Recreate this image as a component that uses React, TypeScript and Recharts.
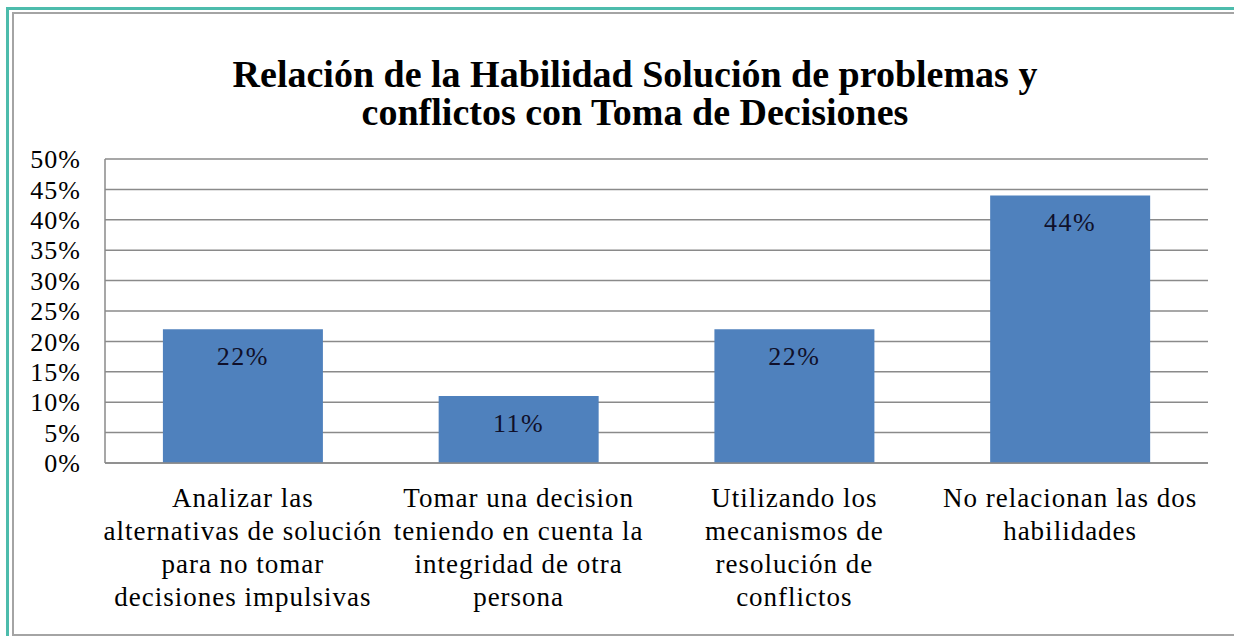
import React from 'react';
import { BarChart, Bar, XAxis, YAxis, CartesianGrid, LabelList } from 'recharts';

const categoryLines: string[][] = [
  ['Analizar las', 'alternativas de solución', 'para no tomar', 'decisiones impulsivas'],
  ['Tomar una decision', 'teniendo en cuenta la', 'integridad de otra', 'persona'],
  ['Utilizando los', 'mecanismos de', 'resolución de', 'conflictos'],
  ['No relacionan las dos', 'habilidades'],
];
const percentages = [22, 11, 22, 44];
const yTicks = [0, 5, 10, 15, 20, 25, 30, 35, 40, 45, 50];
const titleLines = ['Relación de la Habilidad Solución de problemas y', 'conflictos con Toma de Decisiones'];

const data = categoryLines.map((lines, i) => ({
  name: lines.join(' '),
  value: percentages[i],
}));

const FONT = 'Liberation Serif, DejaVu Serif, serif';

function CategoryTick(props: any) {
  const { x, y, index } = props;
  const lines = categoryLines[index] || [];
  return (
    <text x={x} y={y} textAnchor="middle" style={{ fontFamily: FONT, letterSpacing: 1 }} fontSize={27} fill="#000">
      {lines.map((l, i) => (
        <tspan key={i} x={x} dy={i === 0 ? 42 : 33}>
          {l}
        </tspan>
      ))}
    </text>
  );
}

function BarLabel(props: any) {
  const { x, y, width, value } = props;
  return (
    <text
      x={x + width / 2}
      y={y + 27}
      textAnchor="middle"
      dominantBaseline="central"
      style={{ fontFamily: FONT, letterSpacing: 1.5 }}
      fontSize={26}
      fill="#10102a"
    >
      {`${value}%`}
    </text>
  );
}

export default function App() {
  return (
    <div style={{ position: 'absolute', left: 0, top: 0, width: 1234, height: 636, background: '#fff', overflow: 'hidden', fontFamily: FONT }}>
      {/* outer teal frame and inner grey frame */}
      <div style={{ position: 'absolute', left: 6, top: 7, width: 1240, height: 640, borderLeft: '3px solid #4dbcac', borderTop: '3px solid #4dbcac' }} />
      <div style={{ position: 'absolute', left: 12, top: 12, width: 1240, height: 620, borderLeft: '2px solid #a4a4a4', borderTop: '2px solid #a4a4a4', borderBottom: '2px solid #a4a4a4' }} />
      <div
        style={{
          position: 'absolute',
          left: 0,
          top: 55,
          width: 1270,
          textAlign: 'center',
          fontFamily: FONT,
          fontWeight: 'bold',
          fontSize: 38,
          lineHeight: '38px',
          color: '#000',
        }}
      >
        {titleLines.map((t, i) => (
          <div key={i}>{t}</div>
        ))}
      </div>
      <div style={{ position: 'absolute', left: 0, top: 0 }}>
        <BarChart width={1234} height={636} data={data} margin={{ top: 159, right: 26, left: 15, bottom: 143 }} barCategoryGap="21%">
          <CartesianGrid vertical={false} stroke="#8a8a8a" strokeWidth={1.5} />
          <XAxis
            dataKey="name"
            height={30}
            interval={0}
            tick={<CategoryTick />}
            tickLine={false}
            tickSize={0}
            axisLine={{ stroke: '#8a8a8a', strokeWidth: 1.5 }}
          />
          <YAxis
            width={90}
            domain={[0, 50]}
            ticks={yTicks}
            interval={0}
            tickFormatter={(v: number) => `${v}%`}
            tick={{ fontFamily: FONT, fontSize: 26, fill: '#000', letterSpacing: 1 }}
            tickLine={false}
            tickSize={0}
            tickMargin={24}
            axisLine={{ stroke: '#8a8a8a', strokeWidth: 1.5 }}
          />
          <Bar dataKey="value" fill="#4f81bd" isAnimationActive={false}>
            <LabelList dataKey="value" content={<BarLabel />} />
          </Bar>
        </BarChart>
      </div>
    </div>
  );
}
